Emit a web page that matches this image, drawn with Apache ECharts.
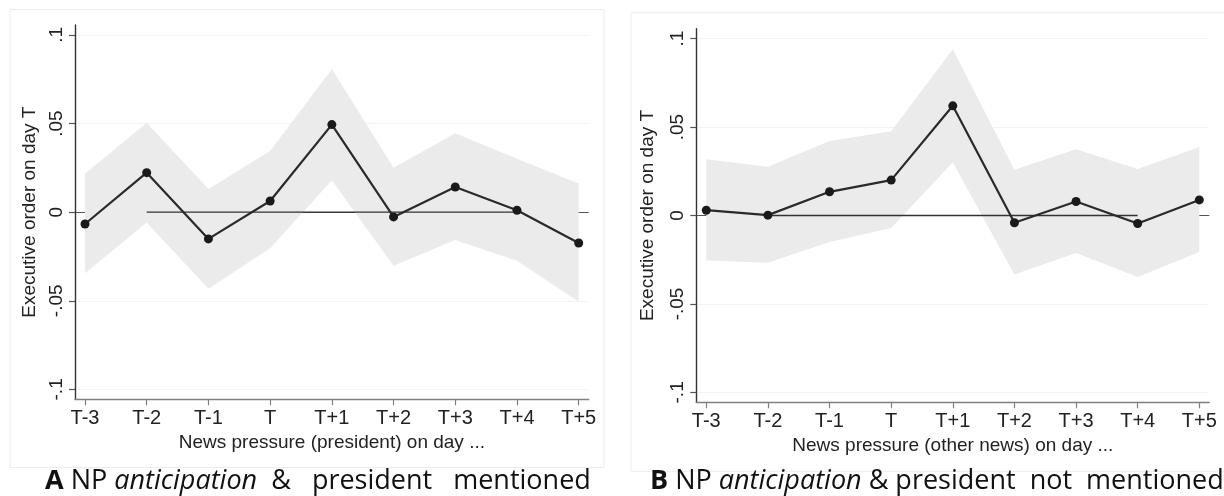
<!DOCTYPE html>
<html>
<head>
<meta charset="utf-8">
<script src="https://cdn.jsdelivr.net/npm/echarts@6/dist/echarts.min.js"></script>
<style>
html,body{margin:0;padding:0;background:#fff;}
#chart{width:1224px;height:496px;}
</style>
</head>
<body>
<div id="chart"></div>
<script>
// ---- data ----
const categories = ['T-3','T-2','T-1','T','T+1','T+2','T+3','T+4','T+5'];
const yTickValues = [-0.1, -0.05, 0, 0.05, 0.1];
const yTickLabels = ['-.1', '-.05', '0', '.05', '.1'];

// Panel A: president mentioned
const estA   = [-0.0067, 0.0223, -0.0151, 0.0063, 0.0494, -0.0027, 0.0142, 0.0011, -0.0174];
const upperA = [ 0.0216, 0.0505,  0.0131, 0.0345, 0.0808,  0.0251, 0.0445, 0.0302,  0.0161];
const lowerA = [-0.0345,-0.0059, -0.0432,-0.0204, 0.0180, -0.0302,-0.0157,-0.0274, -0.0505];

// Panel B: president not mentioned
const estB   = [ 0.0030, 0.0002,  0.0134, 0.0200, 0.0620, -0.0041, 0.0079,-0.0045,  0.0088];
const upperB = [ 0.0318, 0.0276,  0.0421, 0.0476, 0.0940,  0.0258, 0.0374, 0.0263,  0.0387];
const lowerB = [-0.0255,-0.0267, -0.0150,-0.0071, 0.0301, -0.0334,-0.0212,-0.0347, -0.0206];

// reference line at zero, drawn from T-2 to T+4
const refLineCats = ['T-2','T-1','T','T+1','T+2','T+3','T+4'];
const refLineValue = 0;

const xTitleA = 'News pressure (president) on day ...';
const xTitleB = 'News pressure (other news) on day ...';
const yTitle = 'Executive order on day T';

// ---- chart ----
const chart = echarts.init(document.getElementById('chart'), null, {renderer:'canvas'});
const xIdx = categories.map((c,i)=>i);
const FONT = '"Liberation Sans", Arial, sans-serif';
const CAPFONT = '"Open Sans", "Noto Sans", sans-serif';

function xAxisCfg(gridIndex, name){
  return {
    type:'value', gridIndex, min:-0.162, max:8.162,
    name, nameLocation:'middle', nameGap:26,
    nameTextStyle:{fontFamily:FONT, fontSize:19, color:'#222'},
    axisLine:{show:true, onZero:false, lineStyle:{color:'#808080', width:1.4}},
    axisTick:{show:true, length:6, customValues:xIdx, lineStyle:{color:'#808080', width:1.2}},
    axisLabel:{customValues:xIdx, margin:9, fontFamily:FONT, fontSize:20, color:'#222',
      formatter:v=>categories[Math.round(v)]},
    splitLine:{show:false}
  };
}
function yAxisCfg(gridIndex, gap){
  return {
    type:'value', gridIndex, min:-0.1056, max:0.1056,
    name:yTitle, nameLocation:'middle', nameGap:gap, nameRotate:90,
    nameTextStyle:{fontFamily:FONT, fontSize:19, color:'#222'},
    axisLine:{show:true, onZero:false, lineStyle:{color:'#333', width:1.4}},
    axisTick:{show:true, length:6, customValues:yTickValues, lineStyle:{color:'#555', width:1.2}},
    axisLabel:{customValues:yTickValues, rotate:90, margin:9, fontFamily:FONT, fontSize:19, color:'#222',
      formatter:v=>{const k=yTickValues.findIndex(t=>Math.abs(t-v)<1e-9); return k>=0?yTickLabels[k]:'';}},
    splitLine:{show:true, lineStyle:{color:['#f3f3f3','#f3f3f3','#555','#f3f3f3','#f3f3f3'], width:1}}
  };
}
function bandSeries(ax, lower, upper){
  return {
    type:'custom', xAxisIndex:ax, yAxisIndex:ax, z:1, silent:true,
    data: categories.map((c,i)=>[i, lower[i], upper[i]]),
    encode:{x:0, y:[1,2]},
    renderItem:(params, api)=>{
      if (params.dataIndex !== 0) return null;
      const pts = [];
      for (let i=0;i<categories.length;i++) pts.push(api.coord([i, upper[i]]));
      for (let i=categories.length-1;i>=0;i--) pts.push(api.coord([i, lower[i]]));
      return {type:'polygon', shape:{points:pts}, style:{fill:'#ebebeb', stroke:null}};
    }
  };
}
function refSeries(ax){
  return {
    type:'line', xAxisIndex:ax, yAxisIndex:ax, z:2, symbol:'none', silent:true,
    data: refLineCats.map(c=>[categories.indexOf(c), refLineValue]),
    lineStyle:{color:'#333', width:1.3}
  };
}
function estSeries(ax, est){
  return {
    type:'line', xAxisIndex:ax, yAxisIndex:ax, z:3,
    data: est.map((v,i)=>[i, v]),
    symbol:'circle', symbolSize:9,
    itemStyle:{color:'#1a1a1a'},
    lineStyle:{color:'#2a2a2a', width:2.2}
  };
}
function caption(x, letter, rest){
  return {type:'text', left:x, top:468, style:{
    text:'{b|'+letter+'} NP {i|anticipation}'+rest,
    fontFamily:CAPFONT, fontSize:27, fill:'#111',
    rich:{b:{fontWeight:'bold', fontSize:27, fontFamily:CAPFONT, fill:'#111'},
          i:{fontStyle:'italic', fontSize:27, fontFamily:CAPFONT, fill:'#111'}}
  }};
}

const option = {
  backgroundColor:'#fff',
  animation:false,
  grid:[
    {left:75, top:25, width:513.7, height:374.3, containLabel:false},
    {left:696.3, top:28.7, width:513, height:373.6, containLabel:false}
  ],
  xAxis:[xAxisCfg(0, xTitleA), xAxisCfg(1, xTitleB)],
  yAxis:[yAxisCfg(0, 36), yAxisCfg(1, 39)],
  series:[
    bandSeries(0, lowerA, upperA), refSeries(0), estSeries(0, estA),
    bandSeries(1, lowerB, upperB), refSeries(1), estSeries(1, estB)
  ],
  graphic:[
    {type:'rect', z:-10, shape:{x:10, y:9.5, width:594, height:458}, style:{fill:null, stroke:'#ececec', lineWidth:1}},
    {type:'rect', z:-10, shape:{x:631, y:12.3, width:600, height:459}, style:{fill:null, stroke:'#ececec', lineWidth:1}},
    caption(45, 'A', '  &   president   mentioned'),
    caption(650, 'B', ' & president  not  mentioned')
  ]
};
chart.setOption(option);
</script>
</body>
</html>
